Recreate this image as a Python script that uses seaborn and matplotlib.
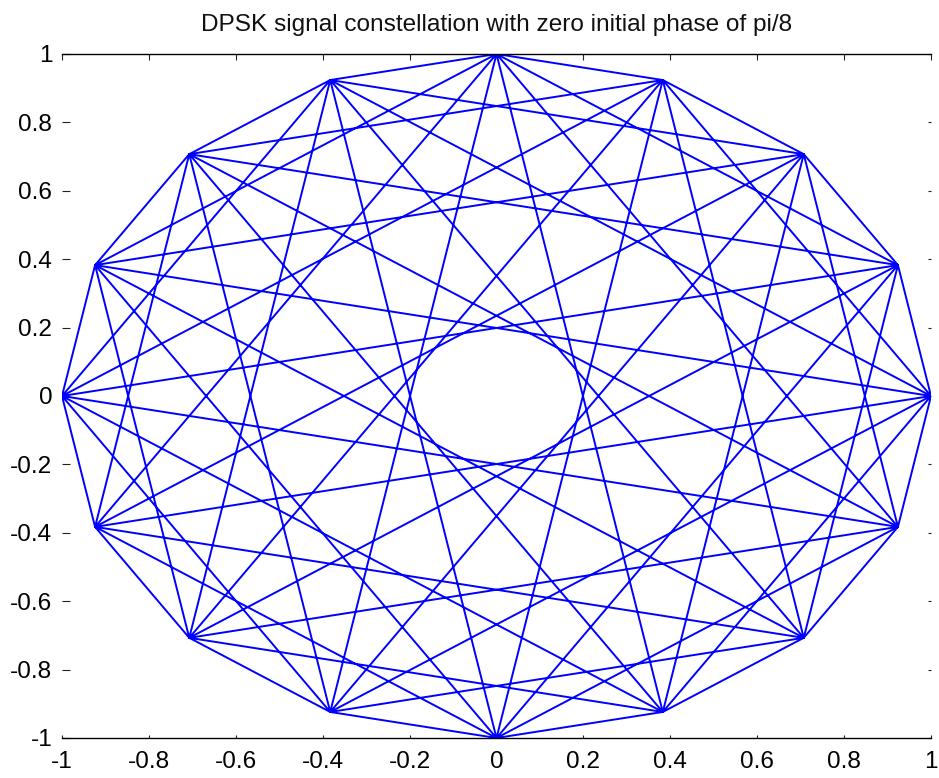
import numpy as np
import pandas as pd
import matplotlib
matplotlib.use("Agg")
import matplotlib.pyplot as plt
import seaborn as sns

# Transmitted DPSK symbol sequence (phase index, in units of pi/8)
symbols = [0, 1, 2, 3, 4, 5, 6, 7, 8, 9, 10, 11, 12, 13, 14, 15, 0,
           3, 6, 9, 12, 15, 2, 5, 8, 11, 14, 1, 4, 7, 10, 13, 0,
           5, 10, 15, 4, 9, 14, 3, 8, 13, 2, 7, 12, 1, 6, 11, 0,
           7, 14, 5, 12, 3, 10, 1, 8, 15, 6, 13, 4, 11, 2, 9, 0]
phase_step = np.pi / 8

x_ticks = [-1, -0.8, -0.6, -0.4, -0.2, 0, 0.2, 0.4, 0.6, 0.8, 1]
y_ticks = [-1, -0.8, -0.6, -0.4, -0.2, 0, 0.2, 0.4, 0.6, 0.8, 1]
x_tick_labels = ["-1", "-0.8", "-0.6", "-0.4", "-0.2", "0", "0.2", "0.4", "0.6", "0.8", "1"]
y_tick_labels = ["-1", "-0.8", "-0.6", "-0.4", "-0.2", "0", "0.2", "0.4", "0.6", "0.8", "1"]
title = "DPSK signal constellation with zero initial phase of pi/8"

sns.set_theme(style="white")
plt.rcParams["font.family"] = ["Liberation Sans", "DejaVu Sans"]
plt.rcParams["axes.unicode_minus"] = False

phase = np.array(symbols) * phase_step
df = pd.DataFrame({"I": np.cos(phase), "Q": np.sin(phase), "n": np.arange(len(symbols))})

fig = plt.figure(figsize=(9.39, 7.78), dpi=100)
ax = fig.add_axes([62 / 939, 40 / 778, 869 / 939, 684 / 778])

sns.lineplot(data=df, x="I", y="Q", sort=False, estimator=None,
             color="#0000ff", linewidth=1.4, ax=ax)

ax.set_xlim(-1, 1)
ax.set_ylim(-1, 1)
ax.set_xticks(x_ticks)
ax.set_xticklabels(x_tick_labels)
ax.set_yticks(y_ticks)
ax.set_yticklabels(y_tick_labels)
ax.set_xlabel("")
ax.set_ylabel("")

fs = 17.6
ax.tick_params(axis="both", which="major", direction="in", length=6, width=0.8,
               color="#222222", labelsize=fs, labelcolor="black")
ax.tick_params(axis="x", top=True, bottom=True, pad=9)
ax.tick_params(axis="y", left=True, right=True, pad=7)
for t in ax.xaxis.get_major_ticks():
    t.tick1line.set_markersize(2)
    t.tick2line.set_markersize(4)
for t in ax.yaxis.get_major_ticks():
    t.tick2line.set_markersize(2)

for side in ("left", "right"):
    ax.spines[side].set_visible(False)
for side in ("top", "bottom"):
    ax.spines[side].set_visible(True)
    ax.spines[side].set_color("black")
    ax.spines[side].set_linewidth(1.0)

ax.set_title(title, fontsize=fs, pad=16.5, color="#111111")

fig.savefig("out.png", dpi=100, facecolor="white")
